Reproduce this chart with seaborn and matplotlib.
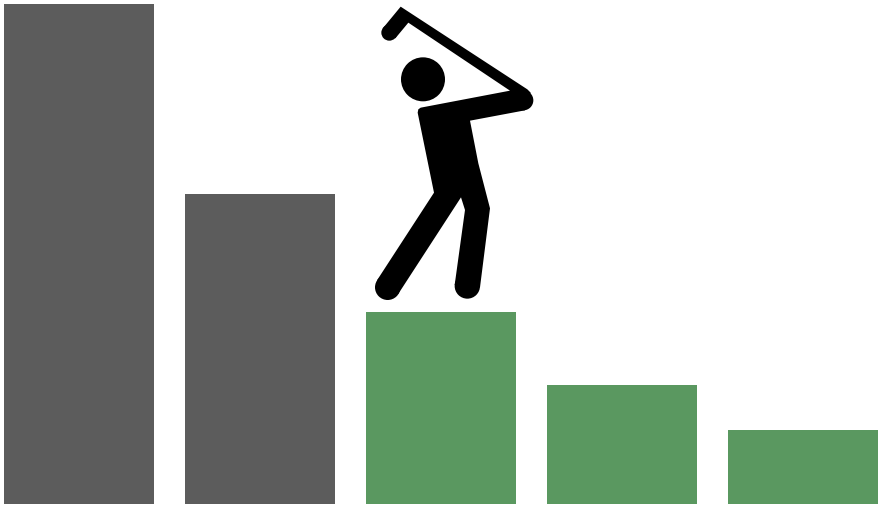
#!/usr/bin/env python3
"""Barras descendentes con el icono del golfista sobre la tercera barra."""

import matplotlib
matplotlib.use('Agg')
import matplotlib.pyplot as plt
from matplotlib.patches import Circle, Polygon
import pandas as pd
import seaborn as sns

categories = ['A', 'B', 'C', 'D', 'E']
values = [500, 310, 192, 119, 74]
bar_colors = ['#5c5c5c', '#5c5c5c', '#5a9860', '#5a9860', '#5a9860']

# Silueta del golfista, en pixeles del zoom 3x de la referencia
outline_zoom = [
    (122, 20), (502, 268), (512, 278), (495, 331), (330, 362), (355, 490), (390, 625),
    (360, 862), (284, 855), (315, 630), (303, 592), (114, 883), (51, 841),
    (222, 578), (173, 338), (175, 328), (182, 323), (450, 272), (145, 68), (106, 115), (70, 83),
]
round_ends_zoom = [(490, 301, 30), (322, 858, 38), (83, 862, 38), (88, 98, 24)]
head_zoom = (189, 238, 66)

W, H = 883, 510
df = pd.DataFrame({'cat': categories, 'val': values})

sns.set_theme(style='white')
fig = plt.figure(figsize=(W / 100, H / 100), dpi=100, facecolor='white')

# Area de las barras: de x=4 a x=878 y de y=4 a y=504
ax = fig.add_axes([4 / W, 5 / H, 874 / W, 500 / H])
bar_width = 150 / 181
sns.barplot(data=df, x='cat', y='val', hue='cat', palette=bar_colors,
            width=bar_width, saturation=1, legend=False, linewidth=0, ax=ax)
ax.set_xlim(-bar_width / 2, len(categories) - 1 + bar_width / 2)
ax.set_ylim(0, max(values))
ax.axis('off')

# Capa del icono, en coordenadas de pixel
icon = fig.add_axes([0, 0, 1, 1])
icon.set_xlim(0, W)
icon.set_ylim(H, 0)
icon.axis('off')
icon.patch.set_alpha(0)


def to_px(x, y):
    return 360 + x / 3, y / 3 + 1


icon.add_patch(Polygon([to_px(x, y) for x, y in outline_zoom], closed=True, fc='black', ec='none'))
for x, y, r in round_ends_zoom:
    icon.add_patch(Circle(to_px(x, y), r / 3, fc='black', ec='none'))
icon.add_patch(Circle(to_px(head_zoom[0], head_zoom[1]), head_zoom[2] / 3, fc='black', ec='none'))

fig.savefig('out.png', dpi=100, facecolor='white')
